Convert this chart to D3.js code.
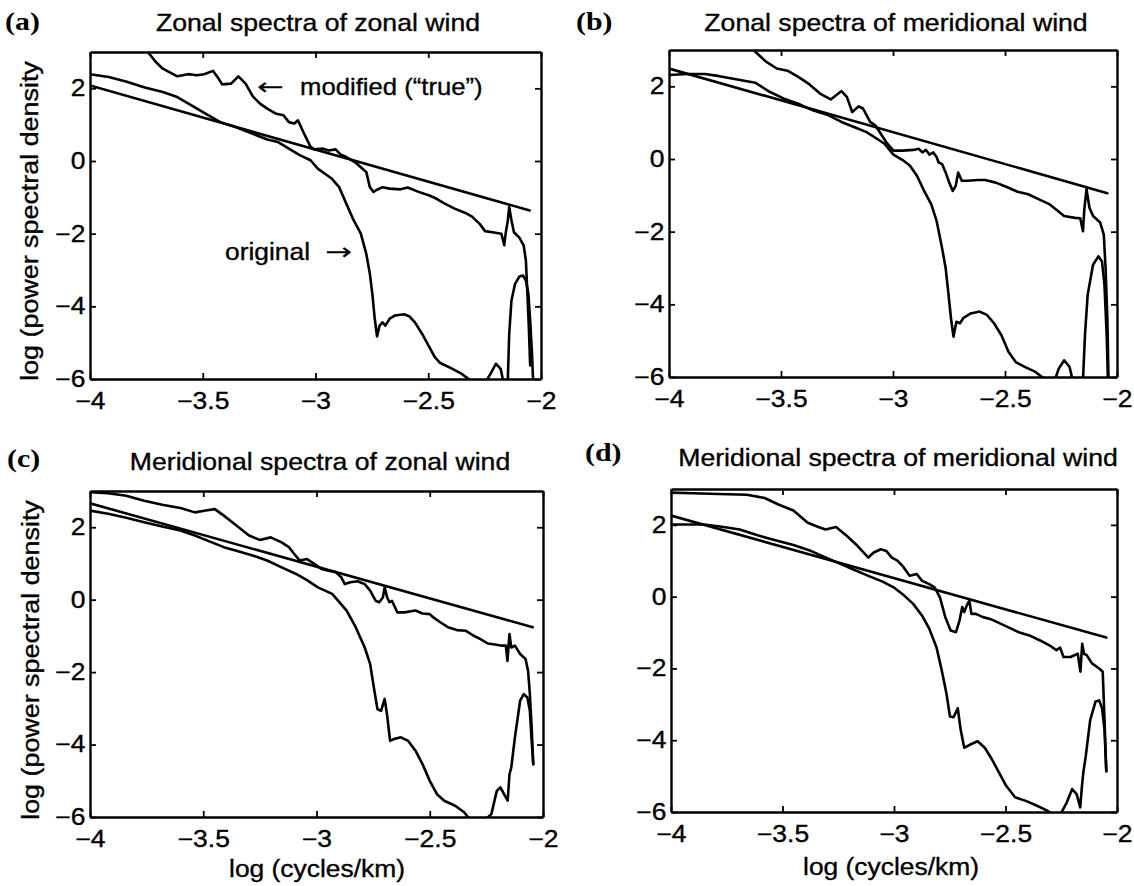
<!DOCTYPE html>
<html><head><meta charset="utf-8">
<script src="https://cdnjs.cloudflare.com/ajax/libs/d3/7.8.5/d3.min.js"></script>
<style>
body{margin:0;background:#fff}
svg{display:block}
text{fill:#000}
</style>
</head><body><svg id="chart" width="1134" height="886"></svg>
<script>
// ---------------- data ----------------
const xTicks = [-4, -3.5, -3, -2.5, -2];
const yTicks = [-6, -4, -2, 0, 2];
const panelLetters = ["(a)", "(b)", "(c)", "(d)"];
const panelTitles = [
  "Zonal spectra of zonal wind",
  "Zonal spectra of meridional wind",
  "Meridional spectra of zonal wind",
  "Meridional spectra of meridional wind"
];
const yAxisLabel = "log (power spectral density";
const xAxisLabel = "log (cycles/km)";
const noteModified = "modified (\u201Ctrue\u201D)";
const noteOriginal = "original";

// panel (a)
const fitA = [[-4, 2.08], [-2.05, -1.36]];
const modifiedA = [[-3.80,3.5],[-3.741,2.98],[-3.709,2.73],[-3.677,2.54],[-3.613,2.33],[-3.565,2.39],[-3.526,2.36],[-3.494,2.39],[-3.454,2.48],[-3.430,2.27],[-3.414,2.11],[-3.374,2.13],[-3.342,2.33],[-3.310,2.13],[-3.278,1.78],[-3.246,1.58],[-3.214,1.44],[-3.174,1.30],[-3.142,1.26],[-3.118,1.07],[-3.094,1.03],[-3.078,1.12],[-3.054,0.80],[-3.022,0.39],[-3.006,0.32],[-2.966,0.34],[-2.942,0.29],[-2.911,0.32],[-2.887,0.17],[-2.863,0.11],[-2.839,0.02],[-2.823,-0.04],[-2.799,-0.17],[-2.775,-0.30],[-2.759,-0.72],[-2.743,-0.85],[-2.727,-0.79],[-2.703,-0.72],[-2.671,-0.76],[-2.623,-0.78],[-2.591,-0.73],[-2.543,-0.85],[-2.495,-0.95],[-2.463,-1.04],[-2.431,-1.16],[-2.383,-1.31],[-2.335,-1.43],[-2.304,-1.54],[-2.272,-1.73],[-2.248,-1.93],[-2.208,-1.97],[-2.176,-2.00],[-2.163,-2.32],[-2.157,-2.00],[-2.147,-1.63],[-2.141,-1.27],[-2.131,-1.63],[-2.120,-1.96],[-2.096,-2.11],[-2.077,-2.32],[-2.067,-2.74],[-2.061,-3.56],[-2.054,-4.57],[-2.048,-5.63]];
const originalA = [[-4.0,2.39],[-3.917,2.31],[-3.837,2.18],[-3.757,2.02],[-3.677,1.90],[-3.613,1.76],[-3.550,1.53],[-3.486,1.30],[-3.422,1.07],[-3.358,0.94],[-3.278,0.75],[-3.214,0.59],[-3.166,0.52],[-3.118,0.34],[-3.070,0.16],[-3.022,0.02],[-2.990,-0.21],[-2.958,-0.35],[-2.927,-0.49],[-2.895,-0.72],[-2.863,-1.18],[-2.831,-1.63],[-2.799,-2.00],[-2.775,-2.55],[-2.759,-3.10],[-2.748,-3.65],[-2.738,-4.30],[-2.727,-4.83],[-2.716,-4.53],[-2.703,-4.44],[-2.690,-4.53],[-2.671,-4.34],[-2.647,-4.25],[-2.607,-4.22],[-2.583,-4.28],[-2.559,-4.44],[-2.527,-4.76],[-2.495,-5.12],[-2.471,-5.40],[-2.447,-5.56],[-2.399,-5.70],[-2.351,-5.86],[-2.319,-6.01],[-2.288,-6.2],[-2.248,-6.1],[-2.224,-5.86],[-2.200,-5.58],[-2.179,-5.72],[-2.168,-6.04],[-2.157,-6.4],[-2.147,-6.0],[-2.141,-4.76],[-2.131,-3.84],[-2.115,-3.38],[-2.096,-3.18],[-2.080,-3.15],[-2.067,-3.29],[-2.056,-3.65],[-2.048,-4.39],[-2.040,-5.31],[-2.035,-6.04],[-2.032,-6.6]];

// panel (b)
const fitB = [[-4, 2.49], [-2.043, -0.94]];
const modifiedB = [[-3.66,3.4],[-3.615,2.95],[-3.567,2.68],[-3.519,2.49],[-3.471,2.43],[-3.423,2.26],[-3.374,2.06],[-3.326,1.80],[-3.278,1.64],[-3.230,1.87],[-3.206,1.71],[-3.182,1.29],[-3.153,1.45],[-3.134,1.39],[-3.102,1.02],[-3.078,0.92],[-3.054,0.69],[-3.030,0.46],[-2.998,0.23],[-2.957,0.23],[-2.909,0.25],[-2.885,0.28],[-2.869,0.18],[-2.853,0.25],[-2.837,0.12],[-2.820,0.18],[-2.805,0.05],[-2.797,-0.09],[-2.781,-0.14],[-2.765,-0.37],[-2.749,-0.65],[-2.733,-0.88],[-2.720,-0.74],[-2.709,-0.37],[-2.693,-0.60],[-2.669,-0.60],[-2.621,-0.58],[-2.589,-0.58],[-2.541,-0.65],[-2.492,-0.77],[-2.444,-0.90],[-2.396,-0.97],[-2.348,-1.11],[-2.300,-1.25],[-2.268,-1.41],[-2.236,-1.57],[-2.188,-1.62],[-2.164,-1.63],[-2.152,-1.99],[-2.146,-1.39],[-2.136,-0.83],[-2.123,-1.34],[-2.107,-1.57],[-2.075,-1.75],[-2.059,-2.08],[-2.051,-3.0],[-2.043,-4.39],[-2.038,-6.05]];
const originalB = [[-4.0,2.31],[-3.920,2.34],[-3.840,2.34],[-3.775,2.28],[-3.695,2.19],[-3.615,2.10],[-3.551,1.85],[-3.487,1.66],[-3.423,1.52],[-3.358,1.34],[-3.294,1.22],[-3.230,1.02],[-3.166,0.86],[-3.118,0.74],[-3.070,0.55],[-3.038,0.42],[-2.998,0.12],[-2.957,-0.03],[-2.925,-0.18],[-2.893,-0.46],[-2.861,-0.88],[-2.829,-1.25],[-2.805,-1.71],[-2.781,-2.45],[-2.765,-3.0],[-2.752,-3.74],[-2.741,-4.39],[-2.730,-4.89],[-2.717,-4.48],[-2.701,-4.52],[-2.685,-4.37],[-2.653,-4.25],[-2.613,-4.20],[-2.581,-4.29],[-2.549,-4.52],[-2.516,-4.85],[-2.484,-5.31],[-2.452,-5.59],[-2.412,-5.72],[-2.364,-5.86],[-2.324,-6.05],[-2.284,-6.2],[-2.260,-5.77],[-2.236,-5.54],[-2.212,-5.72],[-2.196,-6.14],[-2.172,-6.5],[-2.152,-6.1],[-2.143,-4.85],[-2.131,-3.74],[-2.107,-2.91],[-2.083,-2.68],[-2.067,-2.82],[-2.056,-3.46],[-2.046,-4.85],[-2.040,-6.2]];

// panel (c)
const fitC = [[-4, 2.66], [-2.045, -0.76]];
const modifiedC = [[-4.0,2.97],[-3.920,2.94],[-3.840,2.87],[-3.761,2.73],[-3.681,2.62],[-3.601,2.53],[-3.537,2.41],[-3.489,2.46],[-3.449,2.50],[-3.409,2.32],[-3.362,2.09],[-3.298,1.77],[-3.250,1.65],[-3.202,1.72],[-3.154,1.58],[-3.122,1.45],[-3.098,1.26],[-3.074,1.08],[-3.042,1.12],[-3.010,0.99],[-2.978,0.85],[-2.947,0.80],[-2.915,0.76],[-2.891,0.62],[-2.875,0.43],[-2.851,0.48],[-2.819,0.51],[-2.787,0.43],[-2.763,0.25],[-2.739,-0.03],[-2.723,-0.07],[-2.707,0.06],[-2.699,0.34],[-2.688,0.06],[-2.678,-0.07],[-2.667,-0.03],[-2.643,-0.35],[-2.611,-0.35],[-2.563,-0.30],[-2.532,-0.38],[-2.500,-0.40],[-2.484,-0.49],[-2.452,-0.63],[-2.420,-0.76],[-2.380,-0.84],[-2.340,-0.86],[-2.308,-0.99],[-2.276,-1.09],[-2.244,-1.21],[-2.212,-1.24],[-2.180,-1.27],[-2.164,-1.27],[-2.157,-1.69],[-2.148,-0.95],[-2.140,-1.32],[-2.124,-1.27],[-2.101,-1.50],[-2.077,-1.64],[-2.066,-1.96],[-2.058,-2.61],[-2.050,-3.53],[-2.043,-4.54]];
const originalC = [[-4.0,2.46],[-3.920,2.37],[-3.840,2.26],[-3.761,2.14],[-3.681,2.02],[-3.601,1.91],[-3.537,1.77],[-3.473,1.61],[-3.409,1.45],[-3.346,1.34],[-3.282,1.22],[-3.218,1.08],[-3.154,0.89],[-3.090,0.71],[-3.042,0.54],[-2.994,0.34],[-2.962,0.25],[-2.931,0.16],[-2.899,-0.07],[-2.867,-0.30],[-2.827,-0.76],[-2.787,-1.32],[-2.763,-1.78],[-2.747,-2.42],[-2.731,-3.02],[-2.715,-3.07],[-2.699,-2.74],[-2.688,-3.20],[-2.675,-3.90],[-2.659,-3.85],[-2.627,-3.80],[-2.595,-3.90],[-2.563,-4.17],[-2.532,-4.54],[-2.500,-5.00],[-2.468,-5.37],[-2.436,-5.55],[-2.388,-5.69],[-2.348,-5.87],[-2.324,-6.06],[-2.260,-6.1],[-2.228,-5.92],[-2.204,-5.28],[-2.188,-5.18],[-2.172,-5.37],[-2.156,-5.55],[-2.148,-4.82],[-2.140,-4.63],[-2.124,-3.80],[-2.101,-2.79],[-2.085,-2.61],[-2.069,-2.70],[-2.058,-3.07],[-2.050,-3.90],[-2.043,-4.54]];

// panel (d)
const fitD = [[-4, 2.26], [-2.048, -1.14]];
const modifiedD = [[-4.0,2.90],[-3.901,2.88],[-3.788,2.86],[-3.660,2.84],[-3.580,2.75],[-3.516,2.56],[-3.451,2.40],[-3.387,2.06],[-3.339,1.94],[-3.307,1.87],[-3.260,1.94],[-3.211,1.69],[-3.163,1.41],[-3.115,1.09],[-3.091,1.23],[-3.059,1.32],[-3.034,1.27],[-3.010,1.09],[-2.986,1.01],[-2.962,0.86],[-2.930,0.58],[-2.898,0.63],[-2.874,0.44],[-2.842,0.35],[-2.818,0.26],[-2.794,-0.02],[-2.770,-0.57],[-2.746,-0.94],[-2.722,-0.99],[-2.706,-0.66],[-2.694,-0.29],[-2.685,-0.43],[-2.674,-0.25],[-2.662,-0.11],[-2.653,-0.48],[-2.633,-0.48],[-2.601,-0.57],[-2.569,-0.62],[-2.537,-0.71],[-2.489,-0.85],[-2.441,-0.99],[-2.393,-1.08],[-2.345,-1.22],[-2.297,-1.38],[-2.272,-1.49],[-2.255,-1.42],[-2.240,-1.68],[-2.208,-1.68],[-2.176,-1.59],[-2.164,-2.09],[-2.156,-1.31],[-2.148,-1.59],[-2.136,-1.63],[-2.112,-1.86],[-2.080,-2.00],[-2.064,-2.09],[-2.056,-3.43],[-2.048,-4.86]];
const originalD = [[-4.0,2.01],[-3.933,2.01],[-3.852,2.01],[-3.772,1.95],[-3.692,1.87],[-3.612,1.71],[-3.532,1.57],[-3.451,1.44],[-3.371,1.27],[-3.307,1.09],[-3.243,0.92],[-3.179,0.75],[-3.115,0.58],[-3.051,0.42],[-3.002,0.26],[-2.954,0.03],[-2.914,-0.20],[-2.874,-0.53],[-2.842,-0.89],[-2.810,-1.40],[-2.786,-2.05],[-2.765,-2.69],[-2.749,-3.34],[-2.733,-3.36],[-2.714,-3.11],[-2.701,-3.71],[-2.685,-4.21],[-2.658,-4.12],[-2.625,-4.03],[-2.593,-4.21],[-2.561,-4.53],[-2.529,-4.90],[-2.497,-5.27],[-2.457,-5.59],[-2.409,-5.69],[-2.361,-5.82],[-2.313,-5.96],[-2.265,-6.2],[-2.225,-5.73],[-2.201,-5.36],[-2.181,-5.50],[-2.165,-5.87],[-2.157,-5.27],[-2.151,-4.90],[-2.140,-4.44],[-2.120,-3.43],[-2.096,-2.92],[-2.080,-2.89],[-2.067,-3.11],[-2.056,-3.71],[-2.048,-4.86]];

// ---------------- layout ----------------
const SANS = "'Liberation Sans', Arial, Helvetica, sans-serif";
const SERIF = "'Liberation Serif', 'Times New Roman', serif";
const SX = 1.11; // horizontal widening of the sans lettering
const panels = [
  {x0: 90,  x1: 541,  yT: 52,  yB: 379, fit: fitA, mod: modifiedA, orig: originalA,
   title: [318, 31], letter: [5, 30], ylab: [37.5, 221]},
  {x0: 669, x1: 1117, yT: 50,  yB: 377, fit: fitB, mod: modifiedB, orig: originalB,
   title: [896, 31], letter: [576, 30]},
  {x0: 90,  x1: 543,  yT: 491, yB: 817, fit: fitC, mod: modifiedC, orig: originalC,
   title: [320, 470], letter: [7, 467], ylab: [39, 660], xlab: [317, 877]},
  {x0: 671, x1: 1117, yT: 489, yB: 812, fit: fitD, mod: modifiedD, orig: originalD,
   title: [898, 466], letter: [585, 461], xlab: [891, 875]}
];

const svg = d3.select("#chart");
svg.append("rect").attr("width", 1134).attr("height", 886).attr("fill", "#fff");
const fmt = d => d3.format("")(d);

function label(x, y, str, o = {}) {
  const t = svg.append("text")
    .attr("transform", `translate(${x},${y})${o.rotate ? ` rotate(${o.rotate})` : ""} scale(${o.sx || SX},1)`)
    .attr("font-family", o.family || SANS)
    .attr("font-size", o.size || 24)
    .attr("text-anchor", o.anchor || "start")
    .attr("stroke", "#000").attr("stroke-width", o.sw == null ? 0.35 : o.sw)
    .text(str);
  if (o.weight) t.attr("font-weight", o.weight);
  return t;
}

panels.forEach((p, i) => {
  const x = d3.scaleLinear().domain([-4, -2]).range([p.x0, p.x1]);
  const y = d3.scaleLinear().domain([-6, 3]).range([p.yB, p.yT]);
  const g = svg.append("g");

  const clipId = "clip" + i;
  svg.append("clipPath").attr("id", clipId).append("rect")
    .attr("x", p.x0).attr("y", p.yT).attr("width", p.x1 - p.x0).attr("height", p.yB - p.yT);

  const line = d3.line().x(d => x(d[0])).y(d => y(d[1]));
  const lines = g.append("g").attr("clip-path", `url(#${clipId})`);
  [p.fit, p.orig, p.mod].forEach(s => {
    lines.append("path").datum(s).attr("d", line)
      .attr("fill", "none").attr("stroke", "#000").attr("stroke-width", 2.6)
      .attr("stroke-linejoin", "round").attr("stroke-linecap", "round");
  });

  const styleAxis = sel => {
    sel.selectAll(".domain").attr("stroke", "#000").attr("stroke-width", 2.4).attr("fill", "none");
    sel.selectAll(".tick line").attr("stroke", "#000").attr("stroke-width", 1.8);
    sel.selectAll("text").attr("font-family", SANS).attr("font-size", 23)
      .attr("fill", "#000").attr("stroke", "#000").attr("stroke-width", 0.35)
      .attr("transform", "scale(1.15,1)");
  };
  g.append("g").attr("transform", `translate(0,${p.yB})`)
    .call(d3.axisBottom(x).tickValues(xTicks).tickFormat(fmt).tickSize(-6).tickSizeOuter(0).tickPadding(14))
    .call(styleAxis);
  g.append("g").attr("transform", `translate(0,${p.yT})`)
    .call(d3.axisTop(x).tickValues(xTicks).tickFormat("").tickSize(-6).tickSizeOuter(0))
    .call(styleAxis);
  g.append("g").attr("transform", `translate(${p.x0},0)`)
    .call(d3.axisLeft(y).tickValues(yTicks).tickFormat(fmt).tickSize(-6).tickSizeOuter(0).tickPadding(4))
    .call(styleAxis);
  g.append("g").attr("transform", `translate(${p.x1},0)`)
    .call(d3.axisRight(y).tickValues(yTicks).tickFormat("").tickSize(-6).tickSizeOuter(0))
    .call(styleAxis);

  label(p.letter[0], p.letter[1], panelLetters[i], {family: SERIF, weight: "bold", size: 26, sx: 1.15, sw: 0});
  label(p.title[0], p.title[1], panelTitles[i], {anchor: "middle"});
  if (p.ylab) label(p.ylab[0], p.ylab[1], yAxisLabel, {anchor: "middle", rotate: -90, sx: 1.12});
  if (p.xlab) label(p.xlab[0], p.xlab[1], xAxisLabel, {anchor: "middle", sx: 1.1});
  if (i === 0) {
    label(257, 95, "\u2190", {family: "'DejaVu Sans', sans-serif", size: 24, sx: 1.35, sw: 0});
    label(300, 95, noteModified, {sx: 1.07});
    label(225, 260, noteOriginal, {sx: 1.1});
    label(325, 260, "\u2192", {family: "'DejaVu Sans', sans-serif", size: 24, sx: 1.35, sw: 0});
  }
});
</script>
</body></html>
